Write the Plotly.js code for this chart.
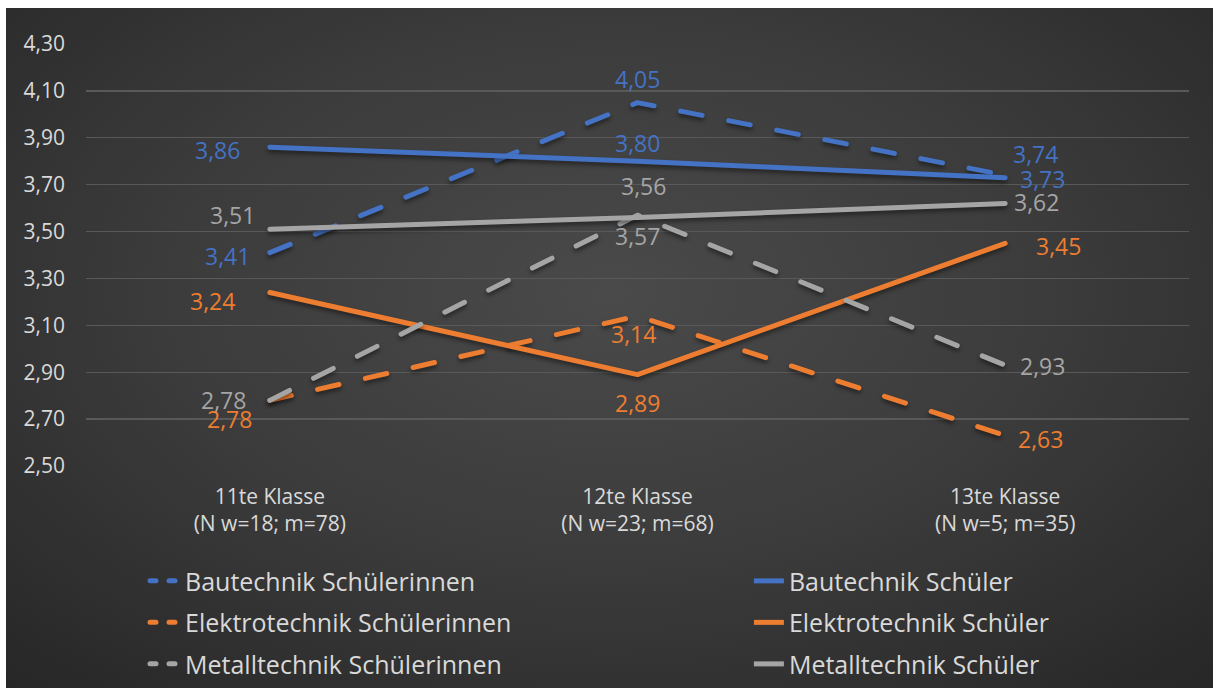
<!DOCTYPE html>
<html><head><meta charset="utf-8">
<script src="https://cdn.plot.ly/plotly-3.0.1.min.js"></script>
<style>
html,body{margin:0;padding:0;background:#fff;overflow:hidden;}
#chart{position:absolute;left:6px;top:8px;width:1207px;height:680px;
background: radial-gradient(ellipse 75% 80% at 50% 42%, #4a4a4a 0%, #3b3b3b 50%, #262626 100%);}
.scatterlayer .js-line, .legend .js-line{stroke-linecap:round;stroke-linejoin:round;}
.scatterlayer .js-line{filter:drop-shadow(0px 3px 2px rgba(0,0,0,0.45));}
</style></head><body><div id="chart"></div>
<script>
// ---- data ----
const categories = ['11te Klasse<br>(N w=18; m=78)', '12te Klasse<br>(N w=23; m=68)', '13te Klasse<br>(N w=5; m=35)'];
const seriesNames = ['Bautechnik Schülerinnen', 'Bautechnik Schüler', 'Elektrotechnik Schülerinnen', 'Elektrotechnik Schüler', 'Metalltechnik Schülerinnen', 'Metalltechnik Schüler'];
const bauW = [3.41, 4.05, 3.74];
const bauM = [3.86, 3.80, 3.73];
const elekW = [2.78, 3.14, 2.63];
const elekM = [3.24, 2.89, 3.45];
const metW = [2.78, 3.57, 2.93];
const metM = [3.51, 3.56, 3.62];
const yTickVals = [2.5, 2.7, 2.9, 3.1, 3.3, 3.5, 3.7, 3.9, 4.1, 4.3];

// ---- styles ----
const BLUE = '#4472C4', ORANGE = '#ED7D31', GRAY = '#A5A5A5';
const series = [
  {name: seriesNames[0], y: bauW, color: BLUE, dashed: true, legend: 'legend',
   off: [[-42, -3], [0, 24], [30, 21]]},
  {name: seriesNames[1], y: bauM, color: BLUE, dashed: false, legend: 'legend2',
   off: [[-52, -3], [0, 18], [37, -1]]},
  {name: seriesNames[2], y: elekW, color: ORANGE, dashed: true, legend: 'legend',
   off: [[-40, -19], [-4, -18], [35, -3]]},
  {name: seriesNames[3], y: elekM, color: ORANGE, dashed: false, legend: 'legend2',
   off: [[-57, -8], [0, -28], [53, -3]]},
  {name: seriesNames[4], y: metW, color: GRAY, dashed: true, legend: 'legend',
   off: [[-46, 0], [0, -21], [37, -1]]},
  {name: seriesNames[5], y: metM, color: GRAY, dashed: false, legend: 'legend2',
   off: [[-37, 14], [6, 31], [31, 1]]}
];

const FONT = 'Open Sans, Noto Sans, sans-serif';
const traces = [];
const annotations = [];
series.forEach((s, k) => {
  traces.push({
    type: 'scatter', mode: 'lines', x: categories, y: s.y, name: s.name,
    line: {color: s.color, width: 5, dash: s.dashed ? '22px,27px' : 'solid'},
    showlegend: !s.dashed, legend: s.legend, legendgroup: 'g' + k,
    hoverinfo: 'skip'
  });
  if (s.dashed) {
    // legend-only entry with a shorter dash pattern so two dashes show in the key
    traces.push({
      type: 'scatter', mode: 'lines', x: [null], y: [null], name: s.name,
      line: {color: s.color, width: 5, dash: '6px,13px'},
      showlegend: true, legend: s.legend, legendgroup: 'g' + k, hoverinfo: 'skip'
    });
  }
  s.y.forEach((v, i) => {
    annotations.push({
      x: categories[i], y: v, xref: 'x', yref: 'y',
      text: v.toFixed(2).replace('.', ','), showarrow: false,
      xshift: s.off[i][0], yshift: s.off[i][1],
      font: {family: FONT, size: 23, color: s.color}
    });
  });
});

const legendCommon = {
  orientation: 'v', yanchor: 'top', xanchor: 'left', yref: 'container',
  bgcolor: 'rgba(0,0,0,0)', font: {family: FONT, size: 25, color: '#D9D9D9'},
  traceorder: 'grouped', tracegroupgap: 6, itemclick: false
};

const layout = {
  width: 1207, height: 680,
  paper_bgcolor: 'rgba(0,0,0,0)', plot_bgcolor: 'rgba(0,0,0,0)',
  margin: {l: 80, r: 24, t: 36, b: 222, autoexpand: false},
  separators: ',.',
  showlegend: true,
  font: {family: FONT, color: '#D9D9D9'},
  xaxis: {
    type: 'category', range: [-0.5, 2.5], showgrid: false, zeroline: false,
    showline: false, ticks: '', tickfont: {family: FONT, size: 21, color: '#D9D9D9'},
    ticklabelstandoff: 16, fixedrange: true
  },
  yaxis: {
    range: [2.5, 4.3], tickvals: yTickVals, tickformat: '.2f',
    showgrid: true, gridcolor: '#595959', gridwidth: 1.3, zeroline: false,
    showline: false, ticks: '', tickfont: {family: FONT, size: 21, color: '#D9D9D9'},
    ticklabelstandoff: 20, fixedrange: true
  },
  legend: Object.assign({}, legendCommon, {x: 0.0535, y: 0.191}),
  legend2: Object.assign({}, legendCommon, {x: 0.601, y: 0.191}),
  annotations: annotations
};

Plotly.newPlot('chart', traces, layout, {displayModeBar: false, staticPlot: true});
</script></body></html>
